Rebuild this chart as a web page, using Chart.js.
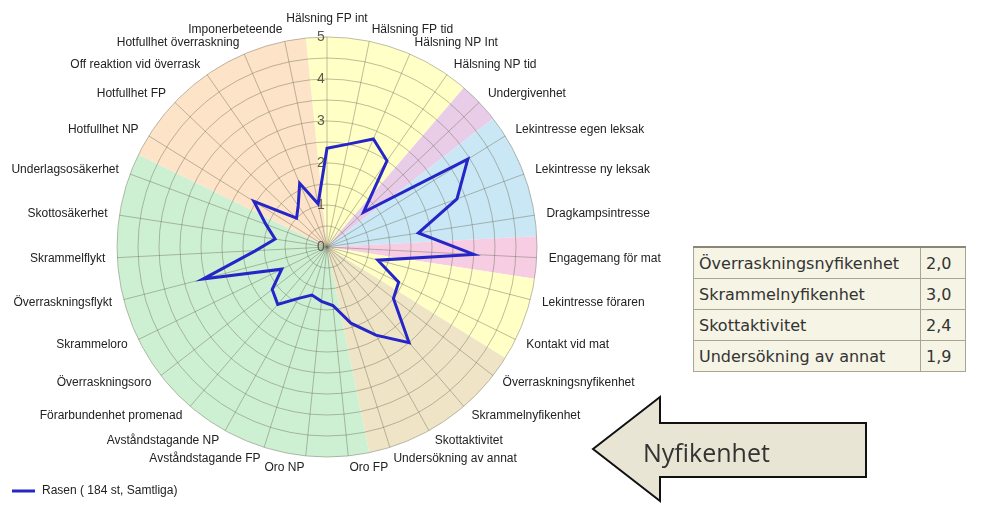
<!DOCTYPE html>
<html>
<head>
<meta charset="utf-8">
<script src="https://cdn.jsdelivr.net/npm/chart.js@4.4.0/dist/chart.umd.min.js"></script>
<style>
body{margin:0;background:#fff;width:991px;height:507px;position:relative;overflow:hidden}
#c{position:absolute;left:0;top:0}
#tbl{position:absolute;left:693px;top:246px;border-collapse:collapse;background:#f6f4e4;font:16px "DejaVu Sans",Verdana,sans-serif;color:#333}
#tbl td{border:1px solid #aaa592;height:30px;padding:0 5px;white-space:nowrap}
#tbl tr:first-child td{border-top:2px solid #8a8778}
#tbl td:first-child{width:216px}
#tbl td:last-child{width:34px}
#arrow{position:absolute;left:0;top:0}
</style>
</head>
<body>
<canvas id="c" width="991" height="507"></canvas>
<table id="tbl"></table>
<svg id="arrow" width="991" height="507">
  <polygon points="593,449 660,397 660,423 866,423 866,477 660,477 660,501" fill="#e9e5d5" stroke="#111" stroke-width="2"/>
  <text x="643" y="462" font-family="Open Sans, Noto Sans, sans-serif" font-size="25" fill="#333">Nyfikenhet</text>
</svg>
<script>
// kategorier medurs från toppen
const labels = ['Hälsning FP int','Hälsning FP tid','Hälsning NP Int','Hälsning NP tid','Undergivenhet',
  'Lekintresse egen leksak','Lekintresse ny leksak','Dragkampsintresse','Engagemang för mat',
  'Lekintresse föraren','Kontakt vid mat','Överraskningsnyfikenhet','Skrammelnyfikenhet','Skottaktivitet',
  'Undersökning av annat','Oro FP','Oro NP','Avståndstagande FP','Avståndstagande NP',
  'Förarbundenhet promenad','Överraskningsoro','Skrammeloro','Överraskningsflykt','Skrammelflykt',
  'Skottosäkerhet','Underlagsosäkerhet','Hotfullhet NP','Hotfullhet FP','Off reaktion vid överrask',
  'Hotfullhet överraskning','Imponerbeteende'];
const rasen = [2.35,2.5,2.8,2.5,1.2,3.95,3.3,2.2,3.5,1.25,1.9,2.0,3.0,2.4,1.9,1.4,1.3,1.2,1.4,1.8,
  1.65,1.2,3.05,1.7,1.25,1.55,2.05,1.0,1.2,1.65,1.05];
const seriesName = 'Rasen ( 184 st, Samtliga)';
const tickLabels = [0,1,2,3,4,5];
const groupSizes = [4,1,3,1,2,4,11,5];
const tableRows = [11,12,13,14];

const groupColors = ['#ffffc6','#e8cce8','#c9e7f5','#f7cde4','#ffffc6','#efe5c6','#cdf0d3','#fde3c7'];
const lineColor = '#2626c8';
const gridColor = 'rgba(110,110,90,0.45)';

// tabell
const tbl = document.getElementById('tbl');
tableRows.forEach(i => {
  const tr = document.createElement('tr');
  tr.innerHTML = '<td>' + labels[i] + '</td><td>' + rasen[i].toFixed(1).replace('.', ',') + '</td>';
  tbl.appendChild(tr);
});

const polarDecor = {
  id: 'polarDecor',
  beforeDraw(chart) {
    const s = chart.scales.r, ctx = chart.ctx;
    const half = Math.PI / labels.length;
    let i = 0;
    ctx.save();
    groupSizes.forEach((size, g) => {
      const a0 = s.getIndexAngle(i) - Math.PI / 2 - half;
      const a1 = s.getIndexAngle(i + size - 1) - Math.PI / 2 + half;
      ctx.beginPath();
      ctx.moveTo(s.xCenter, s.yCenter);
      ctx.arc(s.xCenter, s.yCenter, s.drawingArea, a0, a1);
      ctx.closePath();
      ctx.fillStyle = groupColors[g];
      ctx.fill();
      i += size;
    });
    ctx.restore();
  },
  beforeDatasetsDraw(chart) {
    const s = chart.scales.r, ctx = chart.ctx;
    ctx.save();
    ctx.font = '14px "Liberation Sans", Arial, sans-serif';
    ctx.fillStyle = '#5b5b4b';
    ctx.textAlign = 'center';
    ctx.textBaseline = 'middle';
    tickLabels.forEach(v => {
      ctx.fillText(String(v), s.xCenter - 6, s.yCenter - s.getDistanceFromCenterForValue(v));
    });
    ctx.restore();
  },
  afterDraw(chart) {
    const s = chart.scales.r, ctx = chart.ctx;
    ctx.save();
    ctx.font = '12px "Liberation Sans", Arial, sans-serif';
    ctx.fillStyle = '#222';
    labels.forEach((lab, i) => {
      const p = s.getPointPosition(i, s.drawingArea + 12);
      const deg = Math.round(s.getIndexAngle(i) * 180 / Math.PI) % 360;
      if (deg === 0) { ctx.textAlign = 'center'; ctx.textBaseline = 'bottom'; }
      else { ctx.textAlign = deg < 180 ? 'left' : 'right'; ctx.textBaseline = 'middle'; }
      ctx.fillText(lab, p.x, p.y);
    });
    // förklaring
    const ds = chart.data.datasets[0];
    ctx.strokeStyle = ds.borderColor;
    ctx.lineWidth = 3;
    ctx.beginPath(); ctx.moveTo(12, 491); ctx.lineTo(35, 491); ctx.stroke();
    ctx.font = '12px "Liberation Sans", Arial, sans-serif';
    ctx.textAlign = 'left'; ctx.textBaseline = 'middle';
    ctx.fillText(ds.label, 42, 491);
    ctx.restore();
  }
};

new Chart(document.getElementById('c'), {
  type: 'radar',
  data: {labels: labels, datasets: [{label: seriesName, data: rasen, borderColor: lineColor,
    backgroundColor: lineColor, borderWidth: 3, pointRadius: 0, fill: false, tension: 0}]},
  options: {
    responsive: false, animation: false, devicePixelRatio: 1,
    layout: {padding: {left: 117, right: 454, top: 37, bottom: 50}},
    plugins: {legend: {display: false}, tooltip: {enabled: false}},
    scales: {r: {
      min: 0, max: 5,
      ticks: {display: false, stepSize: 0.5},
      grid: {circular: true, color: gridColor},
      angleLines: {color: gridColor},
      pointLabels: {display: false}
    }}
  },
  plugins: [polarDecor]
});
</script>
</body>
</html>
